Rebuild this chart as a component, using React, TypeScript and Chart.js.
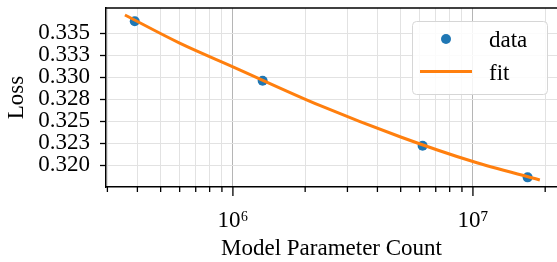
import React, { useEffect, useRef } from 'react';
import { Chart, registerables } from 'chart.js';

Chart.register(...registerables);

// ---- data ----
const dataParams = [3.9e5, 1.33e6, 6.17e6, 1.69e7];
const dataLoss = [0.3364, 0.3296, 0.3222, 0.3186];
const fitParams = [3.55e5, 6.0e5, 1.0e6, 2.3e6, 5.0e6, 1.0e7, 1.9e7];
const fitLoss = [0.3371, 0.3339, 0.3312, 0.3268, 0.3232, 0.3204, 0.3183];

const xTickValues = [3e5, 4e5, 5e5, 6e5, 7e5, 8e5, 9e5, 1e6, 2e6, 3e6, 4e6, 5e6, 6e6, 7e6, 8e6, 9e6, 1e7, 2e7];
const xMajorTicks = [1e6, 1e7];
const xMajorLabels = ['10⁶', '10⁷'];
const yTickValues = [0.32, 0.3225, 0.325, 0.3275, 0.33, 0.3325, 0.335];
const yTickLabels = ['0.320', '0.323', '0.325', '0.328', '0.330', '0.333', '0.335'];

const xMin = 2.96e5;
const xMax = 2.24e7;
const yMin = 0.3175;
const yMax = 0.3379;

const xTitle = 'Model Parameter Count';
const yTitle = 'Loss';
const dataLabel = 'data';
const fitLabel = 'fit';

const FONT = '"Liberation Serif", "Times New Roman", serif';
const BLUE = '#1f77b4';
const ORANGE = '#ff7f0e';

const majorIndex = (v: number) => xMajorTicks.findIndex((m) => Math.abs(v / m - 1) < 1e-6);

const decorPlugin = {
  id: 'decor',
  afterDraw(chart: any) {
    const { ctx, chartArea: a, scales } = chart;
    const xs = scales.x;
    ctx.save();
    // top spine
    ctx.strokeStyle = '#000';
    ctx.lineWidth = 1.5;
    ctx.beginPath();
    ctx.moveTo(a.left - 0.75, a.top);
    ctx.lineTo(a.right, a.top);
    ctx.stroke();
    // x ticks (major longer than minor)
    ctx.lineWidth = 1.3;
    for (const v of xTickValues) {
      const px = xs.getPixelForValue(v);
      const len = majorIndex(v) >= 0 ? 9 : 5;
      ctx.beginPath();
      ctx.moveTo(px, a.bottom);
      ctx.lineTo(px, a.bottom + len);
      ctx.stroke();
    }
    // legend
    const bx = 412.5, by = 21.5, bw = 135, bh = 73;
    ctx.beginPath();
    ctx.roundRect(bx, by, bw, bh, 4);
    ctx.fillStyle = 'rgba(255,255,255,0.85)';
    ctx.fill();
    ctx.strokeStyle = '#d6d6d6';
    ctx.lineWidth = 1;
    ctx.stroke();

    const ds = chart.data.datasets;
    ctx.fillStyle = BLUE;
    ctx.beginPath();
    ctx.arc(446, 39, 5, 0, Math.PI * 2);
    ctx.fill();
    ctx.strokeStyle = ORANGE;
    ctx.lineWidth = 3;
    ctx.beginPath();
    ctx.moveTo(420, 71.5);
    ctx.lineTo(472, 71.5);
    ctx.stroke();
    ctx.fillStyle = '#000';
    ctx.font = `23px ${FONT}`;
    ctx.textBaseline = 'alphabetic';
    ctx.textAlign = 'left';
    const dataDs = ds.find((d: any) => d.id === 'data');
    const fitDs = ds.find((d: any) => d.id === 'fit');
    ctx.fillText(dataDs.label, 489, 46.5);
    ctx.fillText(fitDs.label, 489, 79.5);
    ctx.restore();
  },
};

export default function App() {
  const ref = useRef<HTMLCanvasElement>(null);
  useEffect(() => {
    if (!ref.current) return;
    const chart = new Chart(ref.current, {
      type: 'scatter',
      data: {
        datasets: [
          {
            id: 'fit',
            label: fitLabel,
            data: fitParams.map((x, i) => ({ x, y: fitLoss[i] })),
            showLine: true,
            borderColor: ORANGE,
            borderWidth: 3,
            pointRadius: 0,
            pointHoverRadius: 0,
            cubicInterpolationMode: 'monotone',
            order: 0,
          } as any,
          {
            id: 'data',
            label: dataLabel,
            data: dataParams.map((x, i) => ({ x, y: dataLoss[i] })),
            showLine: false,
            backgroundColor: BLUE,
            borderWidth: 0,
            pointRadius: 5,
            order: 1,
          } as any,
        ],
      },
      options: {
        animation: false,
        responsive: true,
        maintainAspectRatio: false,
        layout: { autoPadding: false, padding: { top: 8, left: 0, right: 0, bottom: 0 } },
        plugins: { legend: { display: false }, tooltip: { enabled: false } },
        events: [],
        scales: {
          x: {
            type: 'logarithmic',
            min: xMin,
            max: xMax,
            afterBuildTicks: (scale: any) => {
              scale.ticks = xTickValues.map((v) => ({ value: v, major: majorIndex(v) >= 0 }));
            },
            afterFit: (scale: any) => {
              scale.height = 75;
              scale.paddingLeft = 0;
              scale.paddingRight = 0;
              scale.paddingTop = 0;
              scale.paddingBottom = 0;
            },
            ticks: {
              autoSkip: false,
              maxRotation: 0,
              minRotation: 0,
              padding: 20,
              color: '#000',
              font: { family: FONT, size: 23 },
              callback: (v: any) => {
                const i = majorIndex(Number(v));
                return i >= 0 ? xMajorLabels[i] : '';
              },
            },
            grid: {
              drawTicks: false,
              color: (c: any) => (c.tick && majorIndex(c.tick.value) >= 0 ? '#b5b5b5' : '#e2e2e2'),
              lineWidth: 1,
            },
            border: { display: true, color: '#000', width: 1.5 },
            title: {
              display: true,
              text: xTitle,
              color: '#000',
              font: { family: FONT, size: 23 },
              padding: { top: 0, bottom: -1 },
            },
          },
          y: {
            type: 'linear',
            min: yMin,
            max: yMax,
            afterBuildTicks: (scale: any) => {
              scale.ticks = yTickValues.map((v) => ({ value: v }));
            },
            afterFit: (scale: any) => {
              scale.width = 106;
              scale.paddingLeft = 0;
              scale.paddingRight = 0;
              scale.paddingTop = 0;
              scale.paddingBottom = 0;
            },
            ticks: {
              autoSkip: false,
              padding: 10,
              color: '#000',
              font: { family: FONT, size: 23 },
              callback: (v: any) => {
                const i = yTickValues.findIndex((t) => Math.abs(t - Number(v)) < 1e-7);
                return i >= 0 ? yTickLabels[i] : '';
              },
            },
            grid: {
              drawTicks: true,
              tickLength: 6,
              tickColor: '#000',
              tickWidth: 1.3,
              color: '#e2e2e2',
              lineWidth: 1,
            },
            border: { display: true, color: '#000', width: 1.5 },
            title: {
              display: true,
              text: yTitle,
              color: '#000',
              font: { family: FONT, size: 23 },
              padding: { top: 3, bottom: 0 },
            },
          },
        },
      },
      plugins: [decorPlugin],
    } as any);
    return () => chart.destroy();
  }, []);
  return (
    <div style={{ position: 'fixed', left: 0, top: 0, width: 557, height: 262 }}>
      <canvas ref={ref} />
    </div>
  );
}
